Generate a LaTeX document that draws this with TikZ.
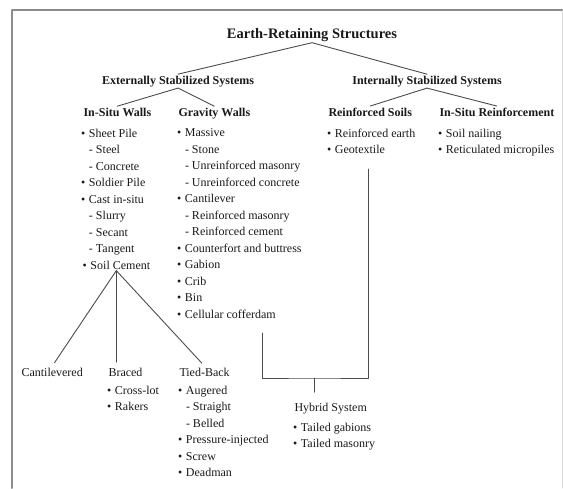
\documentclass[tikz,border=0pt]{standalone}
\usepackage{fontspec}
\setmainfont{Liberation Serif}
\newcommand{\blt}{\makebox[8pt][l]{\textbullet}}
\newcommand{\dsh}{\hspace*{8pt}- }
\begin{document}
\begin{tikzpicture}[
		x=1pt,y=-1pt,
		line cap=round,
		line join=round,
		every node/.style={inner sep=0pt,outer sep=1.5pt,text=black!90},
		ttl/.style={font=\bfseries\fontsize{14.5}{17}\selectfont,anchor=base},
		grp/.style={font=\bfseries\fontsize{12}{14}\selectfont,anchor=base},
		hdr/.style={font=\bfseries\fontsize{12}{14}\selectfont,anchor=base west},
		lbl/.style={font=\fontsize{12}{16.5}\selectfont,anchor=base west},
		lst/.style={font=\fontsize{12}{16.5}\selectfont,align=left,anchor=north west,outer sep=0pt},
		link/.style={draw=black!70,line width=0.9pt}
		]
		\useasboundingbox (0,0) rectangle (563,488);
		\draw[black!15,line width=0.8pt] (562,10) -- (562,488);
		\draw[black!45,line width=2pt] (12,488) -- (12,10) -- (562,10);
		% top levels
		\node[ttl] (ers) at (312,38) {Earth-Retaining Structures};
		\node[grp] (ext) at (178,84) {Externally Stabilized Systems};
		\node[grp] (int) at (427,84) {Internally Stabilized Systems};
		\node[hdr] (isw) at (82,116) {In-Situ Walls};
		\node[hdr] (grw) at (177,116) {Gravity Walls};
		\node[hdr] (rsl) at (327,116) {Reinforced Soils};
		\node[hdr] (isr) at (438,116) {In-Situ Reinforcement};
		% lists
		\node[lst] (iswl) at (81,128.8) {\blt Sheet Pile\\ \dsh Steel\\ \dsh Concrete\\ \blt Soldier Pile\\
			\blt Cast in-situ\\ \dsh Slurry\\ \dsh Secant\\ \dsh Tangent};
		\node[lbl] (socm) at (81,269) {\blt Soil Cement};
		\node[lst] (grwl) at (177,128.8) {\blt Massive\\ \dsh Stone\\ \dsh Unreinforced masonry\\
			\dsh Unreinforced concrete\\ \blt Cantilever\\ \dsh Reinforced masonry\\ \dsh Reinforced cement\\
			\blt Counterfort and buttress\\ \blt Gabion\\ \blt Crib\\ \blt Bin\\ \blt Cellular cofferdam};
		\node[lst] (rsll) at (327,128.8) {\blt Reinforced earth\\ \blt Geotextile};
		\node[lst] (isrl) at (438,128.8) {\blt Soil nailing\\ \blt Reticulated micropiles};
		% soil cement types
		\node[lbl] (cant) at (20,376) {Cantilevered};
		\node[lbl] (brc) at (107,376) {Braced};
		\node[lbl] (tdb) at (178,376) {Tied-Back};
		\node[lst] (brcl) at (107,385.8) {\blt Cross-lot\\ \blt Rakers};
		\node[lst] (tdbl) at (178,385.8) {\blt Augered\\ \dsh Straight\\ \dsh Belled\\ \blt Pressure-injected\\
			\blt Screw\\ \blt Deadman};
		% hybrid
		\node[lbl] (hyb) at (293,411) {Hybrid System};
		\node[lst] (hybl) at (293,422.8) {\blt Tailed gabions\\ \blt Tailed masonry};
		\coordinate (hl) at (262,333);
		\coordinate (hm) at (314,378);
		\coordinate (hr) at (368,169);
		\begin{scope}[link]
		\draw (ers.south) -- (ext.north);
		\draw (ers.south) -- (int.north);
		\draw (ext.south) -- (isw.north);
		\draw (ext.south) -- (grw.north);
		\draw (int.south) -- (rsl.north);
		\draw (int.south) -- (isr.north);
		\draw[shorten >=4pt] (socm.south) -- (cant.north);
		\draw[shorten >=4pt] (socm.south) -- (socm.south |- brc.north);
		\draw[shorten >=4pt] (socm.south) -- (tdb.north);
		\draw (hl) |- (hm) -| (hr);
		\draw[shorten >=9pt] (hm) -- (hm |- hyb.north);
		\end{scope}
		\end{tikzpicture}
\end{document}
